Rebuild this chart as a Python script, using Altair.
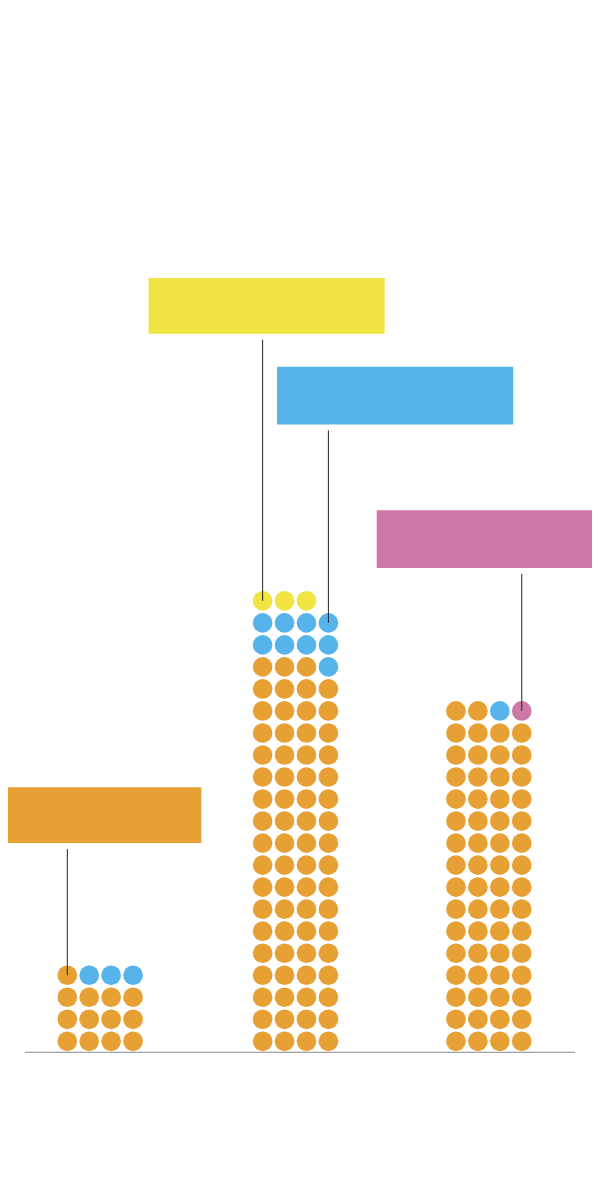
import altair as alt
import pandas as pd

# ---- data -------------------------------------------------------------
categories = ["Group 1", "Group 2", "Group 3"]
series = ["Series 1", "Series 2", "Series 3", "Series 4"]
series_colors = ["#E6A033", "#57B4EA", "#F1E443", "#CC79A7"]

# dots per series, per category (stacked in this order)
count_s1 = [13, 71, 62]
count_s2 = [3, 9, 1]
count_s3 = [0, 3, 0]
count_s4 = [0, 0, 1]

# annotation callouts: which series, which group, which dot they point to
ann_series = ["Series 3", "Series 2", "Series 4", "Series 1"]
ann_group = [1, 1, 2, 0]
ann_dot_index = [80, 79, 63, 12]

# ---- layout (positions / sizes, not data) -----------------------------
GROUP_X0 = [42.5, 238.5, 432.5]   # centre of first dot column in each group
PITCH_X = 22
PITCH_Y = 22.1
ROW_OFFSET = 11
COLS = 4
DOT_SIZE = 390
PLOT_W = 552
PLOT_H = 1039
BOXES = {  # x0, x1, y0, y1 in scale units
    "Series 3": (124, 361, 721, 777),
    "Series 2": (253, 490, 630, 688),
    "Series 4": (353, 569, 486, 544),
    "Series 1": (-20, 177, 210, 266),
}
GAP = 6

counts = [count_s1, count_s2, count_s3, count_s4]

def dot_pos(g, idx):
    col = idx % COLS
    row = idx // COLS
    return GROUP_X0[g] + col * PITCH_X, ROW_OFFSET + row * PITCH_Y

rows = []
for g, cat in enumerate(categories):
    idx = 0
    for s, name in enumerate(series):
        for _ in range(counts[s][g]):
            x, y = dot_pos(g, idx)
            rows.append({"category": cat, "series": name, "x": x, "y": y})
            idx += 1
dots = pd.DataFrame(rows)

ann_rows = []
for name, g, di in zip(ann_series, ann_group, ann_dot_index):
    x0, x1, y0, y1 = BOXES[name]
    dx, dy = dot_pos(g, di)
    ann_rows.append({"series": name, "bx0": x0, "bx1": x1, "by0": y0, "by1": y1,
                     "lx": dx, "ly0": dy, "ly1": y0 - GAP})
ann = pd.DataFrame(ann_rows)

base_df = pd.DataFrame({"x0": [0], "x1": [PLOT_W], "y": [0]})

xs = alt.Scale(domain=[0, PLOT_W], nice=False, zero=False)
ys = alt.Scale(domain=[0, PLOT_H], nice=False, zero=False)
cs = alt.Scale(domain=series, range=series_colors)

baseline = alt.Chart(base_df).mark_rule(color="#888888", strokeWidth=1).encode(
    x=alt.X("x0:Q", scale=xs, axis=None),
    x2="x1:Q",
    y=alt.Y("y:Q", scale=ys, axis=None),
)

dots_layer = alt.Chart(dots).mark_circle(size=DOT_SIZE, opacity=1).encode(
    x=alt.X("x:Q", scale=xs, axis=None),
    y=alt.Y("y:Q", scale=ys, axis=None),
    color=alt.Color("series:N", scale=cs, legend=None),
)

boxes = alt.Chart(ann).mark_rect(opacity=1).encode(
    x=alt.X("bx0:Q", scale=xs, axis=None),
    x2="bx1:Q",
    y=alt.Y("by0:Q", scale=ys, axis=None),
    y2="by1:Q",
    color=alt.Color("series:N", scale=cs, legend=None),
)

leaders = alt.Chart(ann).mark_rule(color="#222222", strokeWidth=1).encode(
    x=alt.X("lx:Q", scale=xs, axis=None),
    y=alt.Y("ly0:Q", scale=ys, axis=None),
    y2="ly1:Q",
)

chart = alt.layer(baseline, boxes, dots_layer, leaders).properties(
    width=PLOT_W,
    height=PLOT_H,
    autosize=alt.AutoSizeParams(type="none"),
    padding={"left": 17, "right": 17, "top": 7, "bottom": 40},
    background="white",
).configure_view(stroke=None)

chart.save("out.html", embed_options={"renderer": "svg", "actions": False})
